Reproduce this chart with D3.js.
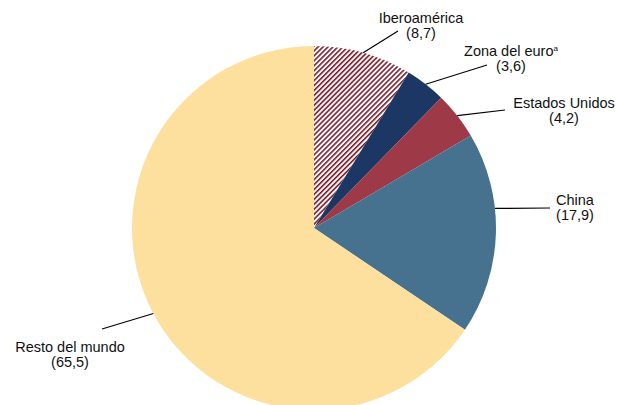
<!DOCTYPE html>
<html>
<head>
<meta charset="utf-8">
<script src="https://cdn.jsdelivr.net/npm/d3@7"></script>
<style>
  body { margin: 0; background: #fff; }
  text { font-family: "Liberation Sans", Arial, sans-serif; font-size: 14.5px; fill: #111; }
</style>
</head>
<body>
<div id="chart"></div>
<script>
// Data (percent)
const categories = ["Iberoamérica", "Zona del euro", "Estados Unidos", "China", "Resto del mundo"];
const values = [8.7, 3.6, 4.2, 17.9, 65.5];
const valueLabels = ["(8,7)", "(3,6)", "(4,2)", "(17,9)", "(65,5)"];
const colors = ["url(#hatch)", "#1c3764", "#9e3a47", "#46728f", "#fde09e"];

// Label layout: text anchor, leader end, and leader start angle tweak (degrees)
const labelPos = [
  { x: 421, y: 23, lx: 398, ly: 31, da: 0 },
  { x: 511, y: 56, lx: 487, ly: 65, da: 0 },
  { x: 564, y: 108, lx: 505, ly: 110, da: 0 },
  { x: 575, y: 205, lx: 550, ly: 208, da: -7.9 },
  { x: 70, y: 352, lx: 102, ly: 329, da: 0 }
];

const width = 619, height = 405;
const cx = 314, cy = 228, r = 182;

const svg = d3.select("#chart").append("svg")
  .attr("width", width)
  .attr("height", height);

const defs = svg.append("defs");
const pat = defs.append("pattern")
  .attr("id", "hatch")
  .attr("patternUnits", "userSpaceOnUse")
  .attr("width", 3.5)
  .attr("height", 10)
  .attr("patternTransform", "rotate(45)");
pat.append("rect").attr("width", 3.5).attr("height", 10).attr("fill", "#fff");
pat.append("line")
  .attr("x1", 0.8).attr("y1", 0).attr("x2", 0.8).attr("y2", 10)
  .attr("stroke", "#7c1e2a").attr("stroke-width", 1.6);

const data = categories.map((c, i) => ({ name: c, value: values[i], label: valueLabels[i], color: colors[i], pos: labelPos[i] }));

const pie = d3.pie().sort(null).value(d => d.value);
const arc = d3.arc().innerRadius(0).outerRadius(r);

const g = svg.append("g").attr("transform", `translate(${cx},${cy})`);
const arcs = pie(data);

g.selectAll("path.slice")
  .data(arcs)
  .join("path")
  .attr("class", "slice")
  .attr("d", arc)
  .attr("fill", d => d.data.color);

// Leader lines from the slice edge out to each label
const startAngle = d => (d.startAngle + d.endAngle) / 2 + d.data.pos.da * Math.PI / 180;

svg.selectAll("line.leader")
  .data(arcs)
  .join("line")
  .attr("class", "leader")
  .attr("x1", d => cx + r * Math.sin(startAngle(d)))
  .attr("y1", d => cy - r * Math.cos(startAngle(d)))
  .attr("x2", d => d.data.pos.lx)
  .attr("y2", d => d.data.pos.ly)
  .attr("stroke", "#000")
  .attr("stroke-width", 1.2);

// Labels
const lbl = svg.selectAll("text.lbl")
  .data(data)
  .join("text")
  .attr("class", "lbl")
  .attr("text-anchor", "middle")
  .attr("x", d => d.pos.x)
  .attr("y", d => d.pos.y);

lbl.append("tspan")
  .text(d => d.name)
  .filter(d => d.name === "Zona del euro")
  .append("tspan")
  .attr("font-size", 8)
  .attr("dy", -5)
  .text("a");

lbl.append("tspan")
  .attr("x", d => d.pos.x)
  .attr("y", d => d.pos.y + 15)
  .text(d => d.label);
</script>
</body>
</html>
